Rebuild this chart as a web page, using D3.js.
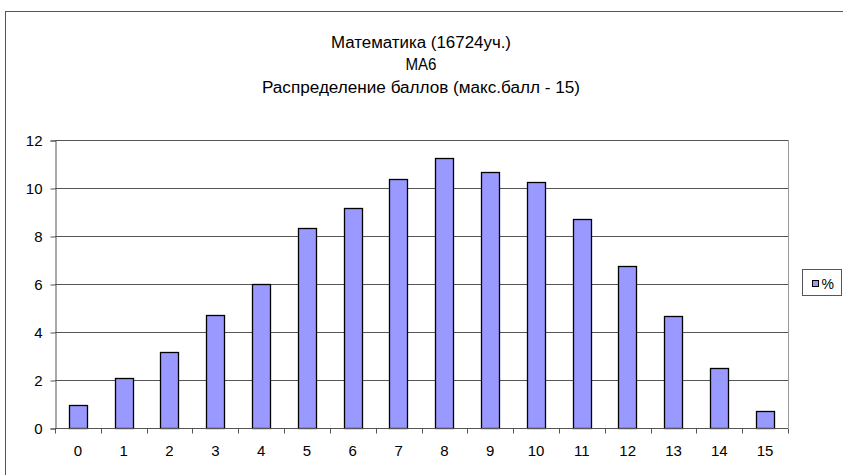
<!DOCTYPE html>
<html>
<head>
<meta charset="utf-8">
<script src="https://cdn.jsdelivr.net/npm/d3@7"></script>
<style>
  html, body { margin: 0; padding: 0; background: #fff; }
  svg { display: block; font-family: "Liberation Sans", Arial, sans-serif; }
</style>
</head>
<body>
<svg id="chart" width="843" height="475"></svg>
<script>
// data
var titleLines = ["Математика (16724уч.)", "МА6", "Распределение баллов (макс.балл - 15)"];
var scores = ["0", "1", "2", "3", "4", "5", "6", "7", "8", "9", "10", "11", "12", "13", "14", "15"];
var percents = [0.96, 2.1, 3.15, 4.72, 5.98, 8.35, 9.17, 10.39, 11.26, 10.67, 10.26, 8.72, 6.74, 4.68, 2.49, 0.71];
var yTicks = [0, 2, 4, 6, 8, 10, 12];
var seriesName = "%";

var svg = d3.select("#chart");
var margin = { top: 140, left: 55, right: 788, bottom: 428 };
var barColor = "#9999ff";

// outer chart frame
svg.append("rect")
    .attr("x", 5.5).attr("y", 11.5)
    .attr("width", 900).attr("height", 600)
    .attr("fill", "none")
    .attr("stroke", "#555");

// title, three lines
var titleWidths = [180, 31, 318];
svg.append("g").selectAll("text")
    .data(titleLines)
    .join("text")
    .attr("x", 421)
    .attr("y", function (d, i) { return [48, 70, 93][i]; })
    .attr("text-anchor", "middle")
    .attr("font-size", 16)
    .attr("textLength", function (d, i) { return titleWidths[i]; })
    .attr("lengthAdjust", "spacingAndGlyphs")
    .attr("fill", "#000")
    .text(function (d) { return d; });

var x = d3.scaleBand().domain(scores).range([margin.left, margin.right]).paddingInner(0).paddingOuter(0);
var y = d3.scaleLinear().domain([0, 12]).range([margin.bottom, margin.top]);

// gridlines
svg.append("g").selectAll("line")
    .data(yTicks.filter(function (d) { return d > 0; }))
    .join("line")
    .attr("x1", margin.left).attr("x2", margin.right)
    .attr("y1", function (d) { return Math.round(y(d)) + 0.5; })
    .attr("y2", function (d) { return Math.round(y(d)) + 0.5; })
    .attr("stroke", "#555")
    .attr("stroke-width", 1);

// plot area right edge
svg.append("line")
    .attr("x1", margin.right + 0.5).attr("x2", margin.right + 0.5)
    .attr("y1", margin.top).attr("y2", margin.bottom)
    .attr("stroke", "#999");

// bars
var barW = x.bandwidth() / 2.5;
svg.append("g").selectAll("rect")
    .data(percents)
    .join("rect")
    .attr("x", function (d, i) { return Math.round(x(scores[i]) + (x.bandwidth() - barW) / 2) + 0.5; })
    .attr("y", function (d) { return Math.round(y(d)) + 0.5; })
    .attr("width", Math.round(barW))
    .attr("height", function (d) { return Math.round(y(0)) - Math.round(y(d)); })
    .attr("fill", barColor)
    .attr("stroke", "#000")
    .attr("stroke-width", 1.3);

// y axis
var yAxis = svg.append("g")
    .attr("transform", "translate(" + (margin.left + 0.5) + ",0.5)")
    .call(d3.axisLeft(y).tickValues(yTicks).tickSize(5).tickPadding(8).tickFormat(d3.format("d")));
yAxis.select(".domain").attr("stroke", "#555");
yAxis.selectAll(".tick line").attr("stroke", "#555");
yAxis.selectAll(".tick text")
    .attr("font-family", "Liberation Sans, Arial, sans-serif")
    .attr("font-size", 15)
    .attr("fill", "#000");

// x axis (ticks on band edges)
var xAxisG = svg.append("g").attr("transform", "translate(0," + (Math.round(y(0)) + 0.5) + ")");
xAxisG.append("line")
    .attr("x1", margin.left).attr("x2", margin.right)
    .attr("stroke", "#555");
xAxisG.selectAll("line.edge")
    .data(scores.concat(["end"]))
    .join("line")
    .attr("class", "edge")
    .attr("x1", function (d, i) { return Math.round(margin.left + i * x.step()) + 0.5; })
    .attr("x2", function (d, i) { return Math.round(margin.left + i * x.step()) + 0.5; })
    .attr("y1", 0).attr("y2", 5)
    .attr("stroke", "#555");
xAxisG.selectAll("text")
    .data(scores)
    .join("text")
    .attr("x", function (d) { return x(d) + x.bandwidth() / 2; })
    .attr("y", 27)
    .attr("text-anchor", "middle")
    .attr("font-size", 15)
    .attr("fill", "#000")
    .text(function (d) { return d; });

// legend
var legend = svg.append("g").attr("transform", "translate(802.5,269.5)");
legend.append("rect")
    .attr("width", 39).attr("height", 26)
    .attr("fill", "#fff").attr("stroke", "#555");
legend.append("rect")
    .attr("x", 10).attr("y", 11)
    .attr("width", 6).attr("height", 6)
    .attr("fill", barColor).attr("stroke", "#000");
legend.append("text")
    .attr("x", 19).attr("y", 19)
    .attr("font-size", 14)
    .attr("fill", "#000")
    .text(seriesName);
</script>
</body>
</html>
